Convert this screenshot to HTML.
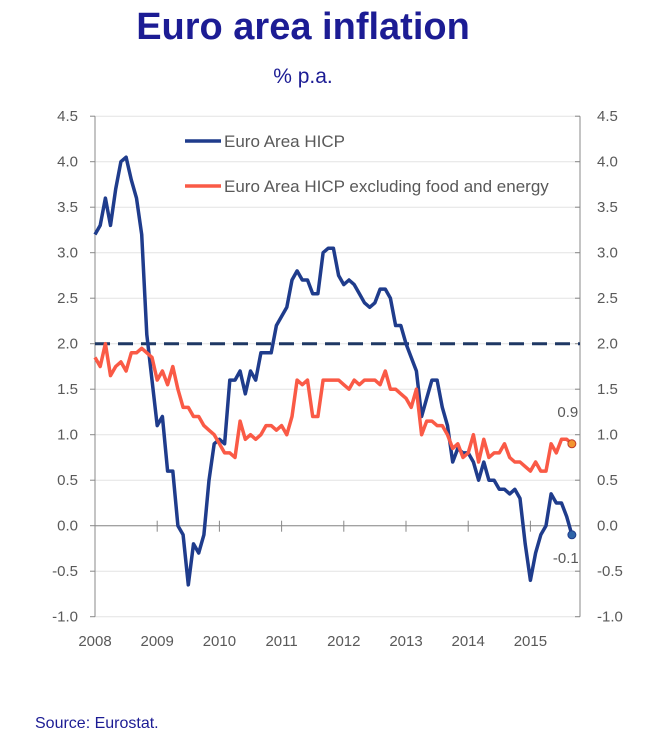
<!DOCTYPE html>
<html><head><meta charset="utf-8"><style>
body{margin:0;background:#fff;width:654px;height:739px;overflow:hidden;font-family:"Liberation Sans",sans-serif}
</style></head><body>
<svg width="654" height="739" xmlns="http://www.w3.org/2000/svg">
<text x="303" y="39" text-anchor="middle" font-size="38" font-weight="bold" fill="#1c1c94">Euro area inflation</text>
<text x="303" y="83" text-anchor="middle" font-size="21" fill="#1c1c94">% p.a.</text>
<g id="grid"></g><g id="axes"></g><g id="series"></g>
<g>
<line x1="185" y1="141" x2="221" y2="141" stroke="#1f3c8c" stroke-width="3.5"/>
<text x="224" y="147" font-size="17" fill="#595959">Euro Area HICP</text>
<line x1="185" y1="186" x2="221" y2="186" stroke="#fa5a46" stroke-width="3.5"/>
<text x="224" y="192" font-size="17" fill="#595959">Euro Area HICP excluding food and energy</text>
</g>
<text x="35" y="728" font-size="16" fill="#1c1c94">Source: Eurostat.</text>
</svg>
<script>
const yTicks=[4.5,4.0,3.5,3.0,2.5,2.0,1.5,1.0,0.5,0.0,-0.5,-1.0];
const years=["2008","2009","2010","2011","2012","2013","2014","2015"];
const hicp=[3.2,3.3,3.6,3.3,3.7,4.0,4.05,3.8,3.6,3.2,2.1,1.6,
1.1,1.2,0.6,0.6,0.0,-0.1,-0.65,-0.2,-0.3,-0.1,0.5,0.9,
0.95,0.9,1.6,1.6,1.7,1.45,1.7,1.6,1.9,1.9,1.9,2.2,
2.3,2.4,2.7,2.8,2.7,2.7,2.55,2.55,3.0,3.05,3.05,2.75,
2.65,2.7,2.65,2.55,2.45,2.4,2.45,2.6,2.6,2.5,2.2,2.2,
2.0,1.85,1.7,1.2,1.4,1.6,1.6,1.3,1.1,0.7,0.85,0.8,
0.8,0.7,0.5,0.7,0.5,0.5,0.4,0.4,0.35,0.4,0.3,-0.2,
-0.6,-0.3,-0.1,0.0,0.35,0.25,0.25,0.1,-0.1];
const core=[1.85,1.75,2.0,1.65,1.75,1.8,1.7,1.9,1.9,1.95,1.9,1.85,
1.6,1.7,1.55,1.75,1.5,1.3,1.3,1.2,1.2,1.1,1.05,1.0,
0.9,0.8,0.8,0.75,1.15,0.95,1.0,0.95,1.0,1.1,1.1,1.05,
1.1,1.0,1.2,1.6,1.55,1.6,1.2,1.2,1.6,1.6,1.6,1.6,
1.55,1.5,1.6,1.55,1.6,1.6,1.6,1.55,1.7,1.5,1.5,1.45,
1.4,1.3,1.5,1.0,1.15,1.15,1.1,1.1,1.0,0.85,0.9,0.75,
0.8,1.0,0.7,0.95,0.75,0.8,0.8,0.9,0.75,0.7,0.7,0.65,
0.6,0.7,0.6,0.6,0.9,0.8,0.95,0.95,0.9];
const target=2.0;
const NS="http://www.w3.org/2000/svg";
const x0=95,x1=580,perYear=62.2;
const xs=m=>x0+m*perYear/12;
const ys=v=>525.7-v*91;
function mk(t,a,p){const e=document.createElementNS(NS,t);for(const k in a)e.setAttribute(k,a[k]);p.appendChild(e);return e;}
const G=document.getElementById('grid'),A=document.getElementById('axes'),S=document.getElementById('series');
yTicks.forEach(v=>{
 const y=ys(v);
 const g=mk('line',{x1:x0,x2:x1,y1:y,y2:y,stroke:'#e3e3e3','stroke-width':1},G);
 
 
 const t1=mk('text',{x:78,y:y+5,'text-anchor':'end','font-size':15,fill:'#595959'},A);t1.textContent=v.toFixed(1);
 
 
 const t2=mk('text',{x:597,y:y+5,'font-size':15,fill:'#595959'},A);t2.textContent=v.toFixed(1);
 
 
 mk('line',{x1:x0-5,x2:x0,y1:y,y2:y,stroke:'#888'},A);
 mk('line',{x1:x1-5,x2:x1,y1:y,y2:y,stroke:'#888'},A);
});
mk('line',{x1:x0,x2:x0,y1:ys(4.5),y2:ys(-1),stroke:'#888'},A);
mk('line',{x1:x1,x2:x1,y1:ys(4.5),y2:ys(-1),stroke:'#888'},A);
mk('line',{x1:x0,x2:x1,y1:ys(0),y2:ys(0),stroke:'#888'},A);
years.forEach((yr,i)=>{
 const x=xs(i*12);
 mk('line',{x1:x,x2:x,y1:ys(0)-5,y2:ys(0)+6,stroke:'#888'},A);
 const t=mk('text',{x:x,y:646,'text-anchor':'middle','font-size':15,fill:'#595959'},A);t.textContent=yr;
 
 
});
const tl=mk('line',{x1:x0,x2:x1,y1:ys(target),y2:ys(target),stroke:'#1f3864','stroke-width':3,'stroke-dasharray':'15 8'},S);


function path(d,c,name){
 const p=mk('path',{d:d.map((v,i)=>(i?'L':'M')+xs(i).toFixed(1)+','+ys(v).toFixed(1)).join(''),fill:'none',stroke:c,'stroke-width':3.5,'stroke-linejoin':'round'},S);
 
 
}
path(hicp,'#1f3c8c','hicp-line');
path(core,'#fa5a46','core-line');
const lc=core.length-1,lh=hicp.length-1;
const d1=mk('circle',{cx:xs(lc),cy:ys(core[lc]),r:4,fill:'#f39530',stroke:'#c0392b'},S);


const d2=mk('circle',{cx:xs(lh),cy:ys(hicp[lh]),r:4,fill:'#2e64a8',stroke:'#1f3c8c'},S);


const l1=mk('text',{x:xs(lc)-4,y:ys(core[lc])-27,'text-anchor':'middle','font-size':15,fill:'#595959'},S);l1.textContent=core[lc].toFixed(1);


const l2=mk('text',{x:xs(lh)-6,y:ys(hicp[lh])+28,'text-anchor':'middle','font-size':15,fill:'#595959'},S);l2.textContent=hicp[lh].toFixed(1);


</script>
</body></html>
